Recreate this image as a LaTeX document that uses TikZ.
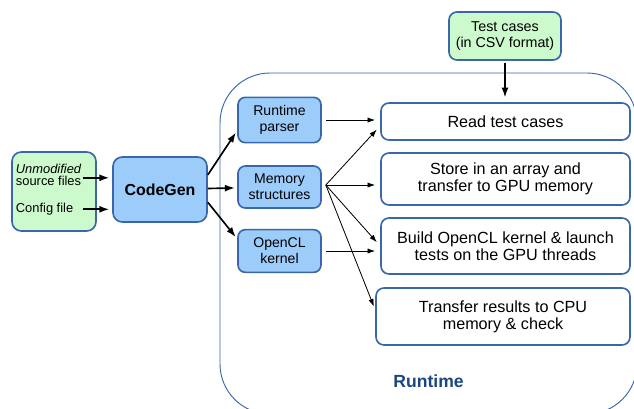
\documentclass[tikz,border=0pt]{standalone}
\usepackage{fontspec}
\setmainfont{Liberation Sans}
\usetikzlibrary{arrows.meta}
\definecolor{boxline}{RGB}{58,102,170}
\definecolor{inputfill}{RGB}{204,250,204}
\definecolor{stagefill}{RGB}{156,204,250}
\definecolor{runtimetext}{RGB}{28,70,128}

\begin{document}
\begin{tikzpicture}[x=0.03cm,y=-0.03cm]
    \tikzstyle{inbox}=[draw=boxline,line width=1.4pt,fill=inputfill,rounded corners=0.28cm]
    \tikzstyle{stage}=[draw=boxline,line width=1.4pt,fill=stagefill,rounded corners=0.22cm,align=center,inner sep=1pt,font=\fontsize{12}{13.5}\selectfont]
    \tikzstyle{task}=[draw=boxline,line width=1.4pt,rounded corners=0.24cm,align=center,inner sep=1pt,font=\fontsize{13.8}{14.5}\selectfont]
    \tikzstyle{srctext}=[inner sep=0pt,align=left,font=\fontsize{11}{10.8}\selectfont]
    \tikzstyle{bigarrow}=[-{Latex[length=8.5pt,width=6pt]},line width=1.4pt]
    \tikzstyle{smallarrow}=[-{Latex[length=6.5pt,width=4.5pt]},line width=0.7pt]
    \useasboundingbox (0,0) rectangle (634,408);
    \clip (0,0) rectangle (634,408);
    % runtime container
    \draw[boxline,line width=0.8pt,rounded corners=1.5cm] (220,73) rectangle (637,414);
    \node[anchor=base,text=runtimetext,font=\fontsize{15}{17}\selectfont\bfseries] (rtlabel) at (428.5,387.7) {Runtime};
    % inputs
    \node[inbox,minimum width=2.52cm,minimum height=2.37cm] (src) at (54,191.5) {};
    \node[srctext,anchor=west] (srcmod) at (15.7,174.8) {\textit{Unmodified}\\source files};
    \node[srctext,anchor=west] (srccfg) at (15.7,209.3) {Config file};
    \node[stage,minimum width=2.82cm,minimum height=1.95cm,rounded corners=0.28cm,font=\fontsize{13.6}{15}\selectfont\bfseries] (codegen) at (160,189.5) {CodeGen};
    \node[inbox,align=center,minimum width=3.36cm,minimum height=1.44cm,rounded corners=0.24cm,font=\fontsize{12.2}{13.5}\selectfont] (testcsv) at (505,36) {Test cases\\(in CSV format)};
    % generated parts
    \node[stage,minimum width=2.49cm,minimum height=1.36cm] (parser) at (279.5,120) {Runtime\\parser};
    \node[stage,minimum width=2.49cm,minimum height=1.26cm] (memory) at (279.5,187) {Memory\\structures};
    \node[stage,minimum width=2.49cm,minimum height=1.28cm] (kernel) at (279.5,251) {OpenCL\\kernel};
    % runtime steps
    \node[task,minimum width=7.47cm,minimum height=1.11cm] (readtc) at (505.5,121.5) {Read test cases};
    \node[task,minimum width=7.47cm,minimum height=1.56cm] (storetc) at (505.5,179) {Store in an array and\\transfer to GPU memory};
    \node[task,minimum width=7.47cm,minimum height=1.68cm] (buildtc) at (505.5,246) {Build OpenCL kernel \& launch\\tests on the GPU threads};
    \node[task,minimum width=7.62cm,minimum height=1.71cm] (resulttc) at (503,316.5) {Transfer results to CPU\\memory \& check};
    % thick arrows
    \draw[bigarrow,shorten >=2.5pt] ([xshift=0.03cm,yshift=-0.09cm]srcmod.east) -- ([yshift=-0.09cm]srcmod.east -| codegen.west);
    \draw[bigarrow,shorten >=2.5pt] ([xshift=0.03cm]srccfg.east -| srcmod.east) -- (srccfg.east -| codegen.west);
    \draw[bigarrow,shorten >=2pt] (codegen.17) -- (parser.194);
    \draw[bigarrow,shorten >=2pt] (codegen) -- (memory);
    \draw[bigarrow,shorten >=2pt] (codegen.-15) -- (kernel.164);
    \draw[bigarrow,shorten <=1.5pt,shorten >=4pt] (testcsv.south) -- (testcsv.south |- readtc.north);
    % thin arrows
    \coordinate (memfan) at ([xshift=0.12cm,yshift=0.06cm]memory.east);
    \draw[smallarrow,shorten <=3.4pt,shorten >=4.3pt] (parser.east) -- (parser.east -| readtc.west);
    \draw[smallarrow,shorten >=4.3pt] (memfan) -- (readtc.182.5);
    \draw[smallarrow,shorten >=4.3pt] (memfan) -- (memfan -| storetc.west);
    \draw[smallarrow,shorten >=4.3pt] (memfan) -- (buildtc.west);
    \draw[smallarrow,shorten >=3pt] (memfan) -- (resulttc.177);
    \draw[smallarrow,shorten <=3.4pt,shorten >=4.3pt] (kernel.east) -- (kernel.east -| buildtc.west);
\end{tikzpicture}
\end{document}
